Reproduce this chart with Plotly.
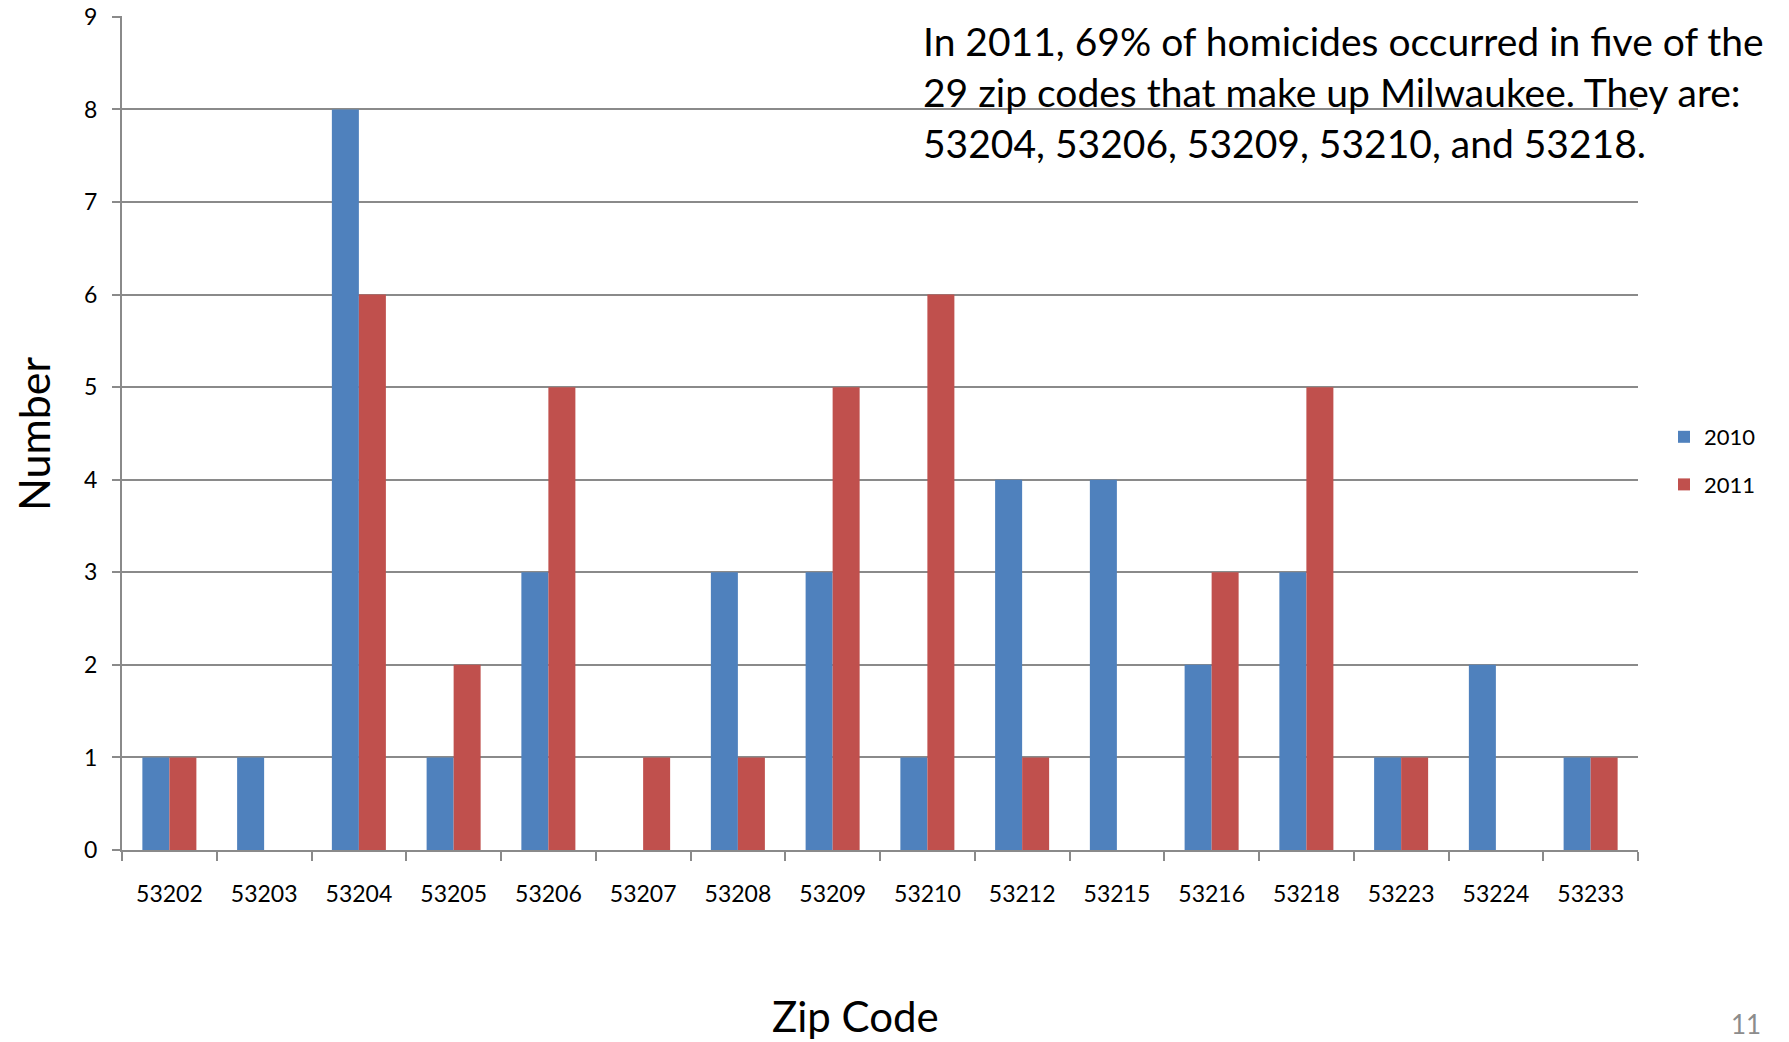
import plotly.graph_objects as go

zip_codes = ["53202", "53203", "53204", "53205", "53206", "53207", "53208", "53209",
             "53210", "53212", "53215", "53216", "53218", "53223", "53224", "53233"]
values_2010 = [1, 1, 8, 1, 3, 0, 3, 3, 1, 4, 4, 2, 3, 1, 2, 1]
values_2011 = [1, 0, 6, 2, 5, 1, 1, 5, 6, 1, 0, 3, 5, 1, 0, 1]
y_ticks = list(range(0, 10))
note_lines = [
    "In 2011, 69% of homicides occurred in five of the",
    "29 zip codes that make up Milwaukee. They are:",
    "53204, 53206, 53209, 53210, and 53218.",
]
x_title = "Zip Code"
y_title = "Number"
page_number = "11"

FONT = "Lato, 'Open Sans', sans-serif"
GRID = "#8a8a8a"

W, H = 1789, 1042
L, R, T, B = 122, 151, 16, 192
plot_w = W - L - R
plot_h = H - T - B


def px(v):
    return (v - L) / plot_w


def py(v):
    return (H - B - v) / plot_h


fig = go.Figure()
fig.add_trace(go.Bar(name="2010", x=zip_codes, y=values_2010, legendgroup="g2010",
                     marker=dict(color="#4F81BD", line=dict(width=0))))
fig.add_trace(go.Bar(name="2011", x=zip_codes, y=values_2011, legendgroup="g2011",
                     marker=dict(color="#C0504D", line=dict(width=0))))

annotations = []
for line, yv in zip(note_lines, [41, 92, 143]):
    annotations.append(dict(text=line, xref="paper", yref="paper", x=px(921), y=py(yv),
                            xanchor="left", yanchor="middle", showarrow=False,
                            font=dict(family=FONT, size=39, color="#000000")))
annotations.append(dict(text=x_title, xref="paper", yref="paper", x=px(855), y=py(1016),
                        xanchor="center", yanchor="middle", showarrow=False,
                        font=dict(family=FONT, size=42, color="#000000")))
annotations.append(dict(text=y_title, xref="paper", yref="paper", x=px(33), y=py(434),
                        xanchor="center", yanchor="middle", showarrow=False, textangle=-90,
                        font=dict(family=FONT, size=43, color="#000000")))
annotations.append(dict(text=page_number, xref="paper", yref="paper", x=px(1763), y=py(1024),
                        xanchor="right", yanchor="middle", showarrow=False,
                        font=dict(family=FONT, size=26, color="#8c8c8c")))

fig.update_layout(
    width=W, height=H,
    margin=dict(l=L, r=R, t=T, b=B, autoexpand=False),
    paper_bgcolor="white", plot_bgcolor="white",
    barmode="group", bargap=0.43, bargroupgap=0,
    font=dict(family=FONT, color="#000000"),
    showlegend=True,
    legend=dict(x=px(1664), y=py(461), xanchor="left", yanchor="middle",
                font=dict(family=FONT, size=22), tracegroupgap=16, itemwidth=30,
                bgcolor="rgba(0,0,0,0)"),
    annotations=annotations,
    xaxis=dict(type="category", showline=True, linecolor=GRID, linewidth=2,
               ticks="outside", tickson="boundaries", ticklen=9, tickwidth=2,
               tickcolor=GRID, showgrid=False, automargin=False, ticklabelstandoff=22,
               tickfont=dict(family=FONT, size=23, color="#000000")),
    yaxis=dict(range=[0, 9.01], tickvals=y_ticks, showline=True, linecolor=GRID,
               linewidth=2, ticks="outside", ticklen=8, tickwidth=2, tickcolor=GRID,
               showgrid=True, gridcolor=GRID, gridwidth=2, zeroline=False,
               automargin=False, ticklabelstandoff=10, ticklabeloverflow="allow",
               tickfont=dict(family=FONT, size=23, color="#000000")),
)

fig.write_html("out.html", config={"displayModeBar": False},
               post_script="document.body.style.margin='0';document.body.style.overflow='hidden';")
